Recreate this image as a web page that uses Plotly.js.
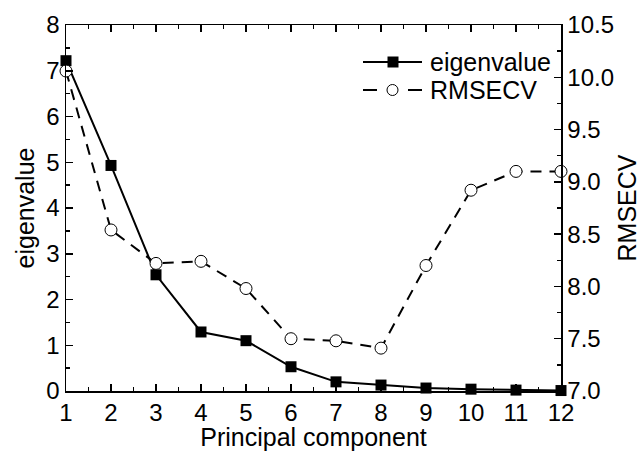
<!DOCTYPE html>
<html>
<head>
<meta charset="utf-8">
<script src="https://cdn.plot.ly/plotly-3.0.1.min.js"></script>
<style>body{margin:0;padding:0;background:#fff}#chart{width:641px;height:451px}</style>
</head>
<body>
<div id="chart"></div>
<script>
const components = [1,2,3,4,5,6,7,8,9,10,11,12];
const eigenvalue = [7.22,4.93,2.54,1.29,1.10,0.53,0.20,0.13,0.065,0.04,0.02,0.01];
const rmsecv = [10.06,8.54,8.22,8.24,7.98,7.50,7.48,7.41,8.20,8.92,9.10,9.10];
const seriesNames = ['eigenvalue', 'RMSECV'];

const FONT = 'Liberation Sans, Arial, sans-serif';
const TICK_FS = 24;
const TITLE_FS = 25;
const DASH = '11px,8px';

const traces = [
  {
    x: components, y: eigenvalue, name: seriesNames[0], type: 'scatter', mode: 'lines+markers',
    line: {color: '#000', width: 2},
    marker: {symbol: 'square', size: 11, color: '#000'},
    cliponaxis: false
  },
  {
    x: components, y: rmsecv, name: seriesNames[1], type: 'scatter', mode: 'lines+markers', yaxis: 'y2',
    line: {color: '#000', width: 2, dash: DASH},
    marker: {symbol: 'circle', size: 12, color: '#fff', line: {color: '#000', width: 1}},
    cliponaxis: false
  }
];

const axisCommon = {
  showgrid: false, zeroline: false, showline: true, linecolor: '#000', linewidth: 1.5,
  ticks: 'inside', ticklen: 7, tickwidth: 1.5, tickcolor: '#000',
  tickfont: {family: FONT, size: TICK_FS, color: '#000'}
};
const minorCommon = {ticks: 'inside', ticklen: 4, tickwidth: 1.5, tickcolor: '#000', showgrid: false};

// Hand-built legend (long line samples, as in the reference)
const M = {l: 66, r: 80, t: 25, b: 60};
const W = 641, H = 451;
const pw = W - M.l - M.r, ph = H - M.t - M.b;
const px = v => (v - M.l) / pw;
const py = v => (H - M.b - v) / ph;
const legY = [62, 90];
const shapes = [
  {type: 'line', xref: 'paper', yref: 'paper', x0: px(363), x1: px(422), y0: py(legY[0]), y1: py(legY[0]),
   line: {color: '#000', width: 2}},
  {type: 'rect', xref: 'paper', yref: 'paper', x0: px(387.5), x1: px(398.5), y0: py(legY[0] + 5.5), y1: py(legY[0] - 5.5),
   line: {width: 0}, fillcolor: '#000'},
  {type: 'line', xref: 'paper', yref: 'paper', x0: px(363), x1: px(377), y0: py(legY[1]), y1: py(legY[1]),
   line: {color: '#000', width: 2}},
  {type: 'line', xref: 'paper', yref: 'paper', x0: px(408), x1: px(422), y0: py(legY[1]), y1: py(legY[1]),
   line: {color: '#000', width: 2}},
  {type: 'circle', xref: 'paper', yref: 'paper', x0: px(387), x1: px(398), y0: py(legY[1] + 5.5), y1: py(legY[1] - 5.5),
   line: {color: '#000', width: 1}, fillcolor: '#fff'}
];
const annotations = seriesNames.map((n, i) => ({
  text: n, xref: 'paper', yref: 'paper', x: px(428), y: py(legY[i]), xanchor: 'left', yanchor: 'middle',
  showarrow: false, font: {family: FONT, size: TITLE_FS, color: '#000'}
}));

const layout = {
  width: W, height: H,
  margin: M,
  paper_bgcolor: '#fff', plot_bgcolor: '#fff',
  font: {family: FONT, size: TICK_FS, color: '#000'},
  showlegend: false,
  shapes: shapes,
  annotations: annotations,
  xaxis: Object.assign({}, axisCommon, {
    range: [1, 12], tickmode: 'linear', tick0: 1, dtick: 1, mirror: 'ticks',
    minor: Object.assign({dtick: 0.5}, minorCommon),
    title: {text: 'Principal component', font: {family: FONT, size: TITLE_FS, color: '#000'}, standoff: 0}
  }),
  yaxis: Object.assign({}, axisCommon, {
    range: [0, 8], tickmode: 'linear', tick0: 0, dtick: 1,
    minor: Object.assign({dtick: 0.5}, minorCommon),
    title: {text: 'eigenvalue', font: {family: FONT, size: TITLE_FS, color: '#000'}, standoff: 4}
  }),
  yaxis2: Object.assign({}, axisCommon, {
    overlaying: 'y', side: 'right', anchor: 'x',
    range: [7.0, 10.5], tickmode: 'linear', tick0: 7, dtick: 0.5, tickformat: '.1f',
    minor: Object.assign({dtick: 0.25}, minorCommon),
    title: {text: 'RMSECV', font: {family: FONT, size: TITLE_FS, color: '#000'}, standoff: 10}
  })
};

Plotly.newPlot('chart', traces, layout, {displayModeBar: false, staticPlot: true});
</script>
</body>
</html>
